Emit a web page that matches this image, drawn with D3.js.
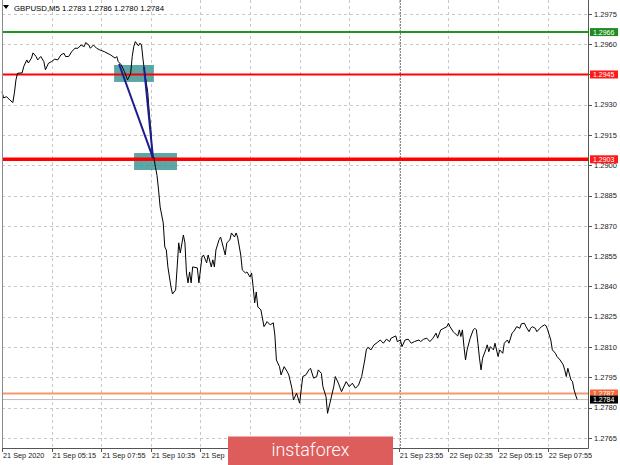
<!DOCTYPE html>
<html><head><meta charset="utf-8">
<script src="https://cdn.jsdelivr.net/npm/d3@7"></script>
<style>html,body{margin:0;padding:0;background:#fff;overflow:hidden}</style>
</head><body>
<svg id="c" width="620" height="465"></svg>
<script>
// ---------- data ----------
const symbolTitle = "GBPUSD,M5";
const ohlcValues = ["1.2783", "1.2786", "1.2780", "1.2784"];
const timeTickBars = [0, 32, 64, 96, 128, 160, 192, 224, 256, 288, 320, 352];
const timeTickLabels = ["21 Sep 2020", "21 Sep 05:15", "21 Sep 07:55", "21 Sep 10:35", "21 Sep 13:15", "21 Sep 15:55",
  "21 Sep 18:35", "21 Sep 21:15", "21 Sep 23:55", "22 Sep 02:35", "22 Sep 05:15", "22 Sep 07:55"];
const priceTicks = [1.2765, 1.2780, 1.2795, 1.2810, 1.2825, 1.2840, 1.2855, 1.2870, 1.2885, 1.2900, 1.2915, 1.2930, 1.2945, 1.2960, 1.2975];
const separatorBar = 257; // 22 Sep 00:00

const priceBars = [0,1,3,5,7,8,9,10,13,14,16,17,19,20,22,23,25,27,28,30,32,34,36,38,40,41,43,45,47,49,51,53,54,56,57,59,61,63,66,70,73,74,75,77,79,81,83,84,85,86,88,89,90,91,92,93,94,95,96,97,98,99,100,
101,102,104,105,106,107,109,110,112,113,114,115,117,118,119,120,121,122,123,126,127,129,130,132,133,135,136,137,138,140,141,142,144,145,147,148,150,151,152,154,155,157,158,160,161,162,163,164,165,
167,169,171,173,175,176,177,179,180,182,184,185,187,188,190,192,193,194,196,198,199,201,203,204,206,207,209,210,212,214,215,217,219,221,222,224,226,228,230,232,234,235,236,238,240,242,244,246,248,250,251,254,255,257,258,260,262,264,266,269,
270,272,274,276,278,280,281,283,285,287,288,289,291,292,294,295,296,297,298,299,300,302,304,305,306,307,308,309,310,312,313,314,315,317,318,320,321,323,324,326,327,329,330,332,334,335,337,338,340,341,342,344,345,347,348,350,351,352,354,355,357,358,360,362,363,364,365,367,368,369,370,371];
const priceCloses = [1.29365,1.29334,1.29340,1.29324,1.29311,1.29359,1.29423,1.29456,1.29458,1.29489,1.29522,1.29507,1.29531,1.29557,1.29539,1.29522,1.29539,1.29514,1.29473,1.29506,1.29514,1.29526,1.29522,1.29547,1.29555,1.29539,1.29539,1.29563,1.29580,1.29580,1.29596,1.29588,1.29608,1.29596,1.29580,1.29596,1.29580,1.29572,1.29563,1.29547,1.29531,1.29539,1.29514,1.29497,1.29464,1.29423,1.29456,1.29539,1.29588,1.29613,1.29592,1.29605,1.29596,1.29522,1.29463,1.29413,1.29364,1.29260,1.29175,1.29037,1.29040,1.28990,1.28950,
1.28878,1.28794,1.28715,1.28596,1.28581,1.28497,1.28398,1.28363,1.28383,1.28497,1.28616,1.28566,1.28655,1.28616,1.28467,1.28418,1.28472,1.28418,1.28497,1.28492,1.28418,1.28546,1.28556,1.28517,1.28556,1.28497,1.28532,1.28497,1.28581,1.28631,1.28645,1.28616,1.28556,1.28616,1.28631,1.28665,1.28645,1.28665,1.28645,1.28556,1.28482,1.28467,1.28472,1.28447,1.28467,1.28398,1.28319,1.28373,1.28299,
1.28284,1.28201,1.28226,1.28210,1.28220,1.28160,1.28036,1.28003,1.27962,1.28003,1.27978,1.27962,1.27896,1.27838,1.27871,1.27822,1.27888,1.27954,1.27962,1.27987,1.27995,1.27946,1.27954,1.27987,1.27970,1.27904,1.27854,1.27772,1.27838,1.27904,1.27954,1.27921,1.27879,1.27912,1.27929,1.27904,1.27921,1.27896,1.27912,1.27954,1.28036,1.28086,1.28099,1.28086,1.28111,1.28122,1.28135,1.28119,1.28139,1.28127,1.28144,1.28155,1.28127,1.28135,1.28102,1.28135,1.28139,1.28119,1.28127,1.28135,
1.28127,1.28139,1.28144,1.28127,1.28144,1.28169,1.28144,1.28185,1.28193,1.28201,1.28218,1.28201,1.28176,1.28169,1.28155,1.28185,1.28152,1.28185,1.28102,1.28036,1.28086,1.28144,1.28185,1.28193,1.28185,1.28119,1.28045,1.27987,1.28045,1.28086,1.28111,1.28077,1.28102,1.28086,1.28119,1.28053,1.28086,1.28069,1.28119,1.28135,1.28119,1.28169,1.28176,1.28201,1.28193,1.28215,1.28218,1.28201,1.28176,1.28193,1.28201,1.28193,1.28176,1.28193,1.28201,1.28210,1.28205,1.28185,1.28135,1.28086,1.28069,1.28053,1.28036,1.28012,1.27987,1.27954,1.27995,1.27937,1.27929,1.27888,1.27863,1.27840];

const levelValues = [1.2966, 1.2945, 1.2903];
const levelLabels = ["1.2966", "1.2945", "1.2903"];
const askValue = 1.2787, askLabel = "1.2787";
const bidValue = 1.2784, bidLabel = "1.2784";

const zoneBarRanges = [[72.3, 98.0], [85.2, 112.9]];
const zonePriceRanges = [[1.29497, 1.29413], [1.29061, 1.28977]];
const signalStartBars = [75.5, 91.6];
const signalStartPrices = [1.29502, 1.29487];
const signalEndBar = 97.4, signalEndPrice = 1.29037;

const brandText = "instaforex";

// ---------- drawing ----------
const svg = d3.select("#c");
const FONT = "'Liberation Sans', Arial, sans-serif";
const plotL = 2, plotR = 588, plotT = 0, plotB = 448;
const brand = { x: 228, y: 436.5, w: 165, h: 29 };
const x = d3.scaleLinear().domain([0, 378]).range([plotL, plotR]);
const y = d3.scaleLinear().domain([1.27605, 1.29809]).range([447, 2]);

svg.append("rect").attr("width", 620).attr("height", 465).attr("fill", "#fff");
const defs = svg.append("defs");
defs.append("clipPath").attr("id", "leftOfBrand")
  .append("rect").attr("x", 0).attr("y", 0).attr("width", brand.x).attr("height", 465);

// grid
svg.append("g").selectAll("line").data(priceTicks).join("line")
  .attr("x1", plotL).attr("x2", plotR)
  .attr("y1", d => Math.round(y(d)) + 0.5).attr("y2", d => Math.round(y(d)) + 0.5)
  .attr("stroke", "#c8c8c8").attr("stroke-width", 1).attr("stroke-dasharray", "3,3");
svg.append("g").selectAll("line").data(timeTickBars).join("line")
  .attr("x1", d => Math.round(x(d)) + 0.5).attr("x2", d => Math.round(x(d)) + 0.5)
  .attr("y1", plotT).attr("y2", plotB)
  .attr("stroke", "#c8c8c8").attr("stroke-width", 1).attr("stroke-dasharray", "3,3");
// period separator
svg.append("line")
  .attr("x1", Math.round(x(separatorBar)) + 0.5).attr("x2", Math.round(x(separatorBar)) + 0.5)
  .attr("y1", plotT).attr("y2", plotB)
  .attr("stroke", "#888").attr("stroke-width", 1).attr("stroke-dasharray", "2,1");

// zones
svg.append("g").selectAll("rect").data(zoneBarRanges).join("rect")
  .attr("x", d => x(d[0])).attr("width", d => x(d[1]) - x(d[0]))
  .attr("y", (d, i) => y(zonePriceRanges[i][0]))
  .attr("height", (d, i) => y(zonePriceRanges[i][1]) - y(zonePriceRanges[i][0]))
  .attr("fill", "#3f9696").attr("fill-opacity", 0.85);

// levels
const levelColors = ["#1e961e", "#ff0000", "#ff0000"];
const levelWidths = [2, 2, 3.5];
svg.append("g").selectAll("line").data(levelValues).join("line")
  .attr("x1", plotL).attr("x2", plotR)
  .attr("y1", d => y(d)).attr("y2", d => y(d))
  .attr("stroke", (d, i) => levelColors[i]).attr("stroke-width", (d, i) => levelWidths[i]);
svg.append("line").attr("x1", plotL).attr("x2", plotR)
  .attr("y1", y(bidValue)).attr("y2", y(bidValue))
  .attr("stroke", "#bdbdbd").attr("stroke-width", 1);
svg.append("line").attr("x1", plotL).attr("x2", plotR)
  .attr("y1", y(askValue)).attr("y2", y(askValue))
  .attr("stroke", "#f59a70").attr("stroke-width", 2);

// price line
const pts = priceBars.map((b, i) => [b, priceCloses[i]]);
svg.append("path").datum(pts)
  .attr("d", d3.line().x(d => x(d[0])).y(d => y(d[1])))
  .attr("fill", "none").attr("stroke", "#000").attr("stroke-width", 1);

// signal lines
svg.append("g").selectAll("line").data(signalStartBars).join("line")
  .attr("x1", d => x(d)).attr("y1", (d, i) => y(signalStartPrices[i]))
  .attr("x2", x(signalEndBar)).attr("y2", y(signalEndPrice))
  .attr("stroke", "#1c1c8c").attr("stroke-width", 2);

// frame / axes
svg.append("line").attr("x1", plotL + 0.5).attr("x2", plotL + 0.5).attr("y1", 0).attr("y2", plotB)
  .attr("stroke", "#8a8a8a");
svg.append("line").attr("x1", plotR + 0.5).attr("x2", plotR + 0.5).attr("y1", 0).attr("y2", plotB + 0.5)
  .attr("stroke", "#555");
svg.append("line").attr("x1", plotL).attr("x2", plotR + 0.5).attr("y1", plotB + 0.5).attr("y2", plotB + 0.5)
  .attr("stroke", "#555");

// right ticks & labels (labels hidden under a level box are not drawn)
const boxedValues = levelValues;
const yAxis = svg.append("g");
yAxis.selectAll("line").data(priceTicks).join("line")
  .attr("x1", plotR).attr("x2", plotR + 4)
  .attr("y1", d => Math.round(y(d)) + 0.5).attr("y2", d => Math.round(y(d)) + 0.5)
  .attr("stroke", "#555");
yAxis.selectAll("text").data(priceTicks.filter(t => !boxedValues.some(v => Math.abs(y(v) - y(t)) < 4))).join("text")
  .attr("x", 594).attr("y", d => y(d)).attr("dy", "0.35em")
  .attr("font-family", FONT).attr("font-size", "7.5px").attr("fill", "#222")
  .text(d => d.toFixed(4));

// bottom ticks & labels (the brand plate covers some of them, as in the original)
const xAxis = svg.append("g");
xAxis.selectAll("line").data(timeTickBars).join("line")
  .attr("x1", d => Math.round(x(d)) + 0.5).attr("x2", d => Math.round(x(d)) + 0.5)
  .attr("y1", plotB).attr("y2", plotB + 4)
  .attr("stroke", "#555");
const labW = 44;
const visibleLabels = timeTickBars.map((b, i) => ({ b, t: timeTickLabels[i] }))
  .filter(d => !(x(d.b) + 1 >= brand.x && x(d.b) + 1 + labW <= brand.x + brand.w + 3));
xAxis.selectAll("text").data(visibleLabels).join("text")
  .attr("x", d => x(d.b) + 1).attr("y", 458)
  .attr("font-family", FONT).attr("font-size", "7.3px").attr("fill", "#222")
  .attr("clip-path", d => (x(d.b) + 1 < brand.x && x(d.b) + 1 + labW > brand.x) ? "url(#leftOfBrand)" : null)
  .text(d => (x(d.b) + 1 < brand.x && x(d.b) + 1 + labW > brand.x) ? d.t.slice(0, 6) : d.t);

// price label boxes
const boxData = [
  { v: levelValues[0], t: levelLabels[0], bg: "#1e8c1e", fg: "#fff" },
  { v: levelValues[1], t: levelLabels[1], bg: "#ff1a1a", fg: "#fff" },
  { v: levelValues[2], t: levelLabels[2], bg: "#ff1a1a", fg: "#fff" },
  { v: askValue, t: askLabel, bg: "#f26a3a", fg: "#fff" },
  { v: bidValue, t: bidLabel, bg: "#000", fg: "#fff" }
];
const bx = svg.append("g").selectAll("g").data(boxData).join("g");
bx.append("rect").attr("x", 590).attr("width", 28).attr("y", d => y(d.v) - 4).attr("height", 8)
  .attr("fill", d => d.bg);
bx.append("text").attr("x", 593).attr("y", d => y(d.v)).attr("dy", "0.35em")
  .attr("font-family", FONT).attr("font-size", "7px").attr("fill", d => d.fg).text(d => d.t);

// header
svg.append("path").attr("d", "M3,5 L9,5 L6,9 Z").attr("fill", "#000");
svg.append("text").attr("x", 14).attr("y", 11)
  .attr("font-family", FONT).attr("font-size", "7.8px").attr("fill", "#000")
  .text(symbolTitle + " " + ohlcValues.join(" "));

// brand
svg.append("rect").attr("x", brand.x).attr("y", brand.y).attr("width", brand.w).attr("height", brand.h)
  .attr("fill", "#dd5c5c");
svg.append("text").attr("x", brand.x + brand.w / 2).attr("y", 456).attr("text-anchor", "middle")
  .attr("font-family", "Roboto, 'Open Sans', sans-serif").attr("font-weight", 300)
  .attr("font-size", "19px").attr("fill", "#fff")
  .attr("textLength", 78).attr("lengthAdjust", "spacingAndGlyphs")
  .text(brandText);
</script>
</body></html>
